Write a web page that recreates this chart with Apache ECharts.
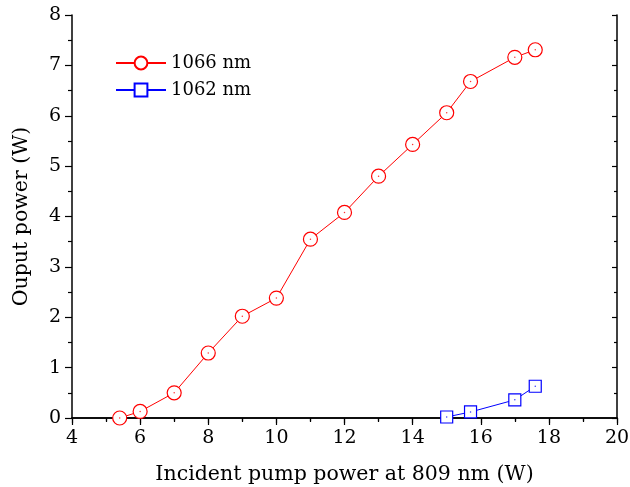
<!DOCTYPE html>
<html><head><meta charset="utf-8">
<script src="https://cdn.jsdelivr.net/npm/echarts@6/dist/echarts.min.js"></script>
<style>html,body{margin:0;padding:0;background:#fff}#c{width:630px;height:487px}</style>
</head><body><div id="c"></div>
<script>
var pump1066 = [5.4, 6, 7, 8, 9, 10, 11, 12, 13, 14, 15, 15.7, 17, 17.6];
var out1066 = [0.0, 0.13, 0.5, 1.29, 2.02, 2.38, 3.55, 4.08, 4.8, 5.43, 6.06, 6.68, 7.16, 7.31];
var pump1062 = [15, 15.7, 17, 17.6];
var out1062 = [0.02, 0.12, 0.36, 0.63];
var seriesNames = ['1066 nm', '1062 nm'];
var xTitle = 'Incident pump power at 809 nm (W)';
var yTitle = 'Ouput power (W)';

function zip(a, b) { return a.map(function (v, i) { return [v, b[i]]; }); }
var d1 = zip(pump1066, out1066), d2 = zip(pump1062, out1062);
var font = 'DejaVu Serif';
var chart = echarts.init(document.getElementById('c'));
var axisLine = {show: true, lineStyle: {color: '#000', width: 1.5}};
chart.setOption({
  animation: false,
  textStyle: {fontFamily: font},
  grid: {left: 72, right: 13, top: 15, bottom: 69, containLabel: false, outerBoundsMode: 'none'},
  legend: {
    data: seriesNames, orient: 'vertical', left: 110, top: 49,
    itemWidth: 50, itemHeight: 16, itemGap: 9,
    textStyle: {fontFamily: font, fontSize: 18, color: '#000'}
  },
  xAxis: [{
    type: 'value', min: 4, max: 20, interval: 2, position: 'bottom',
    name: xTitle, nameLocation: 'middle', nameGap: 46,
    nameTextStyle: {fontFamily: font, fontSize: 20.5, color: '#000'},
    axisLine: axisLine, axisTick: {show: true, length: 7, inside: false, lineStyle: {color: '#000', width: 1.2}},
    minorTick: {show: true, splitNumber: 2, length: 4, lineStyle: {color: '#000', width: 1.2}},
    axisLabel: {fontFamily: font, fontSize: 19, color: '#000', margin: 11},
    splitLine: {show: false}
  }, {
    type: 'value', min: 4, max: 20, interval: 2, position: 'top',
    axisLine: axisLine, axisTick: {show: true, length: 5, inside: true, lineStyle: {color: '#000', width: 1.2}},
    minorTick: {show: true, splitNumber: 2, length: 3, lineStyle: {color: '#000', width: 1.2}},
    axisLabel: {show: false}, splitLine: {show: false}
  }],
  yAxis: [{
    type: 'value', min: 0, max: 8, interval: 1, position: 'left',
    name: yTitle, nameLocation: 'middle', nameGap: 40,
    nameTextStyle: {fontFamily: font, fontSize: 20.5, color: '#000'},
    axisLine: axisLine, axisTick: {show: true, length: 7, inside: false, lineStyle: {color: '#000', width: 1.2}},
    minorTick: {show: true, splitNumber: 2, length: 4, lineStyle: {color: '#000', width: 1.2}},
    axisLabel: {fontFamily: font, fontSize: 19, color: '#000', margin: 11},
    splitLine: {show: false}
  }, {
    type: 'value', min: 0, max: 8, interval: 1, position: 'right',
    axisLine: axisLine, axisTick: {show: true, length: 5, inside: true, lineStyle: {color: '#000', width: 1.2}},
    minorTick: {show: true, splitNumber: 2, length: 3, lineStyle: {color: '#000', width: 1.2}},
    axisLabel: {show: false}, splitLine: {show: false}
  }],
  series: [{
    name: seriesNames[0], type: 'line', data: d1, symbol: 'circle', symbolSize: 14,
    lineStyle: {color: '#ff0000', width: 1}, itemStyle: {color: '#fff', borderColor: '#ff0000', borderWidth: 1.2},
    z: 3
  }, {
    name: seriesNames[1], type: 'line', data: d2, symbol: 'rect', symbolSize: 12,
    lineStyle: {color: '#0000ff', width: 1}, itemStyle: {color: '#fff', borderColor: '#0000ff', borderWidth: 1.2},
    z: 3
  }, {
    type: 'scatter', data: d1, symbol: 'circle', symbolSize: 1.5, itemStyle: {color: '#ff0000'}, z: 4, silent: true
  }, {
    type: 'scatter', data: d2, symbol: 'circle', symbolSize: 1.5, itemStyle: {color: '#0000ff'}, z: 4, silent: true
  }]
});
</script></body></html>
